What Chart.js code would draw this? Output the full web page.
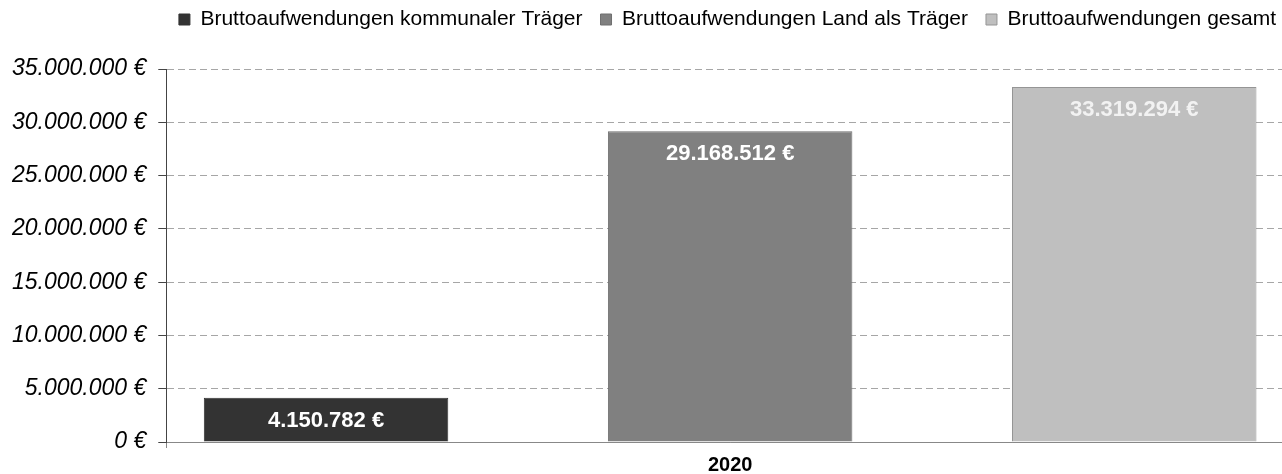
<!DOCTYPE html>
<html>
<head>
<meta charset="utf-8">
<script src="https://cdn.jsdelivr.net/npm/chart.js@4/dist/chart.umd.min.js"></script>
<style>
  html, body { margin: 0; padding: 0; background: #fff; overflow: hidden; }
  #wrap { position: absolute; left: 0; top: 0; width: 1294px; height: 482px; }
</style>
</head>
<body>
<div id="wrap"><canvas id="chart"></canvas></div>
<script>
const categories = ['2020']
const seriesNames = [
  'Bruttoaufwendungen kommunaler Träger',
  'Bruttoaufwendungen Land als Träger',
  'Bruttoaufwendungen gesamt'
]
const kommunal = [4150782]
const land = [29168512]
const gesamt = [33319294]
const yTicks = [0, 5000000, 10000000, 15000000, 20000000, 25000000, 30000000, 35000000]

const fillColors = ['#333333', '#808080', '#bfbfbf']
const edgeColors = ['#333333', '#6f6f6f', '#959595']
const labelColors = ['#ffffff', '#ffffff', '#f2f2f2']
const FONT = '"Liberation Sans", Arial, sans-serif'

// German number format: 33.319.294 €
function euro (v) {
  const s = Math.round(v).toString().replace(/\B(?=(\d{3})+(?!\d))/g, '.')
  return s + ' €'
}

// draws the value labels inside the top of each bar
const barLabels = {
  id: 'barLabels',
  afterDatasetsDraw (chart) {
    const ctx = chart.ctx
    ctx.save()
    ctx.font = 'bold 22px ' + FONT
    ctx.textAlign = 'center'
    ctx.textBaseline = 'middle'
    chart.data.datasets.forEach((ds, i) => {
      chart.getDatasetMeta(i).data.forEach((bar, j) => {
        ctx.fillStyle = labelColors[i]
        ctx.fillText(euro(ds.data[j]), bar.x, bar.y + 23)
      })
    })
    ctx.restore()
  }
}

// extra space under the legend
const legendGap = {
  id: 'legendGap',
  beforeInit (chart) {
    const fit = chart.legend.fit
    chart.legend.fit = function () {
      fit.bind(chart.legend)()
      this.height += 29
    }
  }
}

const values = [kommunal, land, gesamt]

// eslint-disable-next-line no-unused-vars, no-undef
const chart = new Chart(document.querySelector('#chart'), {
  type: 'bar',
  data: {
    labels: categories,
    datasets: values.map((data, i) => ({
      label: seriesNames[i],
      data,
      backgroundColor: fillColors[i],
      borderColor: edgeColors[i],
      borderWidth: 1
    }))
  },
  options: {
    responsive: true,
    maintainAspectRatio: false,
    animation: false,
    categoryPercentage: 1.075,
    barPercentage: 0.605,
    layout: { padding: { left: 0, top: -9, right: 0, bottom: 0 } },
    plugins: {
      legend: {
        display: true,
        align: 'end',
        labels: {
          color: '#000',
          boxWidth: 11,
          boxHeight: 11,
          padding: 18,
          font: { family: FONT, size: 21 }
        }
      },
      tooltip: { enabled: false },
      title: { display: false }
    },
    scales: {
      x: {
        grid: { drawOnChartArea: false, color: '#888', tickLength: 6 },
        border: { color: '#888', width: 1 },
        ticks: {
          color: '#000',
          padding: 5,
          font: { family: FONT, size: 20, weight: 'bold' }
        }
      },
      y: {
        min: 0,
        max: 35000000,
        afterBuildTicks: (axis) => { axis.ticks = yTicks.map(v => ({ value: v })) },
        grid: {
          color: (c) => c.tick && c.tick.value === 0 ? '#888' : '#a6a6a6',
          tickColor: '#444',
          tickLength: 8
        },
        border: {
          color: '#444',
          width: 1,
          dash: (c) => c.tick && c.tick.value === 0 ? [] : [7, 4]
        },
        ticks: {
          color: '#000',
          padding: 12,
          callback: (v) => euro(v),
          font: { family: FONT, size: 23, style: 'italic' }
        }
      }
    }
  },
  plugins: [barLabels, legendGap]
})
</script>
</body>
</html>
